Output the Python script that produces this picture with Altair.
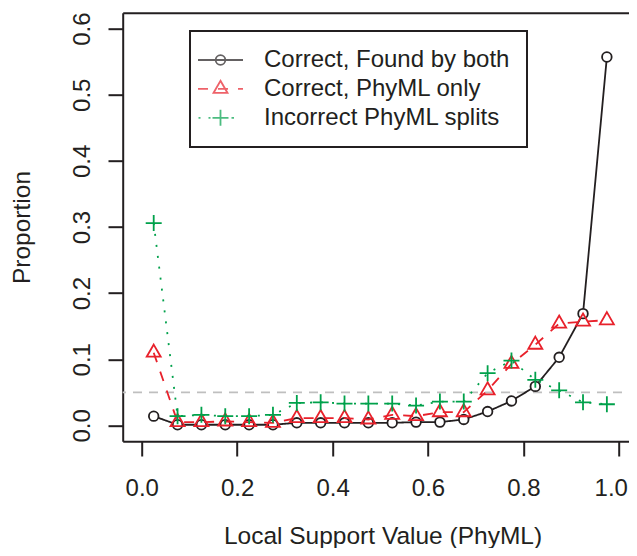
import altair as alt
import pandas as pd

# ---------------- data ----------------
x_vals = [0.025, 0.075, 0.125, 0.175, 0.225, 0.275, 0.325, 0.375, 0.425, 0.475,
          0.525, 0.575, 0.625, 0.675, 0.725, 0.775, 0.825, 0.875, 0.925, 0.975]
series_names = ["Correct, Found by both", "Correct, PhyML only", "Incorrect PhyML splits"]
found_both = [0.014, 0.001, 0.001, 0.001, 0.001, 0.001, 0.004, 0.004, 0.004, 0.004,
              0.004, 0.005, 0.005, 0.009, 0.021, 0.037, 0.059, 0.103, 0.169, 0.557]
phyml_only = [0.110, 0.005, 0.005, 0.006, 0.005, 0.004, 0.011, 0.011, 0.011, 0.009,
              0.016, 0.014, 0.020, 0.020, 0.053, 0.093, 0.122, 0.154, 0.157, 0.159]
incorrect = [0.306, 0.014, 0.016, 0.014, 0.014, 0.016, 0.034, 0.035, 0.033, 0.033,
             0.033, 0.030, 0.036, 0.036, 0.079, 0.098, 0.069, 0.053, 0.035, 0.032]
threshold = [0.05]
x_ticks = [0.0, 0.2, 0.4, 0.6, 0.8, 1.0]
y_ticks = [0.0, 0.1, 0.2, 0.3, 0.4, 0.5, 0.6]

rows = []
for name, vals in zip(series_names, [found_both, phyml_only, incorrect]):
    for i, (xv, v) in enumerate(zip(x_vals, vals)):
        rows.append({"x": xv, "value": v, "series": name, "order": i})
df = pd.DataFrame(rows)
df_thr = pd.DataFrame({"t": threshold})

# ---------------- styles ----------------
FONT = "Liberation Sans"
TXT = "#231f20"
colors = ["#231f20", "#e8212b", "#00a14b"]
dashes = [[1, 0], [10, 10], [2, 9]]

circle = "M0.6,0A0.6,0.6,0,1,1,-0.6,0A0.6,0.6,0,1,1,0.6,0Z"
triangle = "M0,-1.011L0.875,0.505L-0.875,0.505Z"
plus = "M-1,0H1M0,-1V1"
shapes = [circle, triangle, plus]
fills = ["white", "transparent", "transparent"]

# legend keys: line sample + marker
legend_paths = [
    "M-2.8125,0H2.8125" + circle,
    "M-2.8125,0H-1.5625M-0.3125,0H0.9375M2.1875,0H2.8125" + triangle,
    "M-2.75,0H-2.5M-1.5,0H-1.25M1.375,0H1.6875" + plus,
]

x_scale = alt.Scale(domain=[-0.04, 1.0214], nice=False, zero=False)
y_scale = alt.Scale(domain=[-0.024, 0.624], nice=False, zero=False)

y_axis = alt.Axis(values=y_ticks, format=".1f", grid=False, domain=True, domainWidth=2,
                  domainColor=TXT, ticks=True, tickSize=14.7, tickWidth=2, tickColor=TXT,
                  labelAngle=270, labelAlign="center", labelBaseline="alphabetic",
                  labelPadding=18.7, labelFont=FONT, labelFontSize=24, labelColor=TXT,
                  labelOverlap=False, labelFlush=False,
                  title="Proportion", titleFont=FONT, titleFontSize=24.5,
                  titleFontWeight="normal", titleColor=TXT, titleAngle=270,
                  titleAlign="center", titleBaseline="alphabetic",
                  titleX=-93.4, titleY=214.3)
x_axis_bottom = alt.Axis(orient="bottom", values=x_ticks, format=".1f", grid=False,
                         domain=True, domainWidth=2, domainColor=TXT, ticks=True,
                         tickSize=14.7, tickWidth=2, tickColor=TXT,
                         labelBaseline="top", labelPadding=20, labelFont=FONT,
                         labelFontSize=24, labelColor=TXT, labelOverlap=False,
                         labelFlush=False,
                         labelOffset={"condition": {"test": "datum.value >= 0.99", "value": -8},
                                      "value": 0},
                         title="Local Support Value (PhyML)", titleFont=FONT,
                         titleFontSize=24.5, titleFontWeight="normal", titleColor=TXT,
                         titleBaseline="alphabetic", titleX=259.8, titleY=102.2)
x_axis_top = alt.Axis(orient="top", grid=False, domain=True, domainWidth=2,
                      domainColor=TXT, ticks=False, labels=False, title=None)

base = alt.Chart(df)

layers = []
# threshold line
layers.append(
    alt.Chart(df_thr).mark_rule(color="#bfbfbf", strokeDash=[9, 7], strokeDashOffset=9,
                                strokeWidth=1.8)
    .encode(y=alt.Y("t:Q", scale=y_scale, axis=y_axis))
)

for k, name in enumerate(series_names):
    if k == 0:
        xa = x_axis_bottom
    elif k == 1:
        xa = x_axis_top
    else:
        xa = None
    sub = base.transform_filter(alt.datum.series == name)
    line = sub.mark_line(color=colors[k], strokeDash=dashes[k], strokeWidth=1.8).encode(
        x=alt.X("x:Q", scale=x_scale, axis=xa),
        y=alt.Y("value:Q", scale=y_scale, axis=y_axis),
        order="order:Q",
    )
    pts = sub.mark_point(shape=shapes[k], size=256, stroke=colors[k], fill=fills[k],
                         fillOpacity=1, strokeWidth=1.8, opacity=1).encode(
        x=alt.X("x:Q", scale=x_scale, axis=None),
        y=alt.Y("value:Q", scale=y_scale, axis=y_axis),
    )
    layers += [line, pts]

legend_layer = base.transform_filter("false").mark_point(filled=False, strokeWidth=1.8).encode(
    shape=alt.Shape("series:N", scale=alt.Scale(domain=series_names, range=legend_paths),
                    legend=alt.Legend(title=None)),
    color=alt.Color("series:N", scale=alt.Scale(domain=series_names, range=colors),
                    legend=alt.Legend(title=None)),
)
layers.append(legend_layer)

chart = alt.layer(*layers).resolve_axis(x="independent").properties(
    width=506.3, height=428.6,
    autosize=alt.AutoSizeParams(type="none"),
    padding={"left": 114.7, "top": 4.7, "right": 0, "bottom": 106.7},
).configure_view(stroke=None).configure_legend(
    orient="none", legendX=67.3, legendY=18.3, padding=17, strokeColor=TXT,
    strokeWidth=2, fillColor="white", symbolSize=256, symbolStrokeWidth=1.8,
    symbolOffset=1.5, labelOffset=31.5, labelFont=FONT, labelFontSize=24,
    labelColor=TXT, labelLimit=0, rowPadding=4.9,
)

chart.save("out.html", embed_options={"renderer": "svg", "actions": False})
